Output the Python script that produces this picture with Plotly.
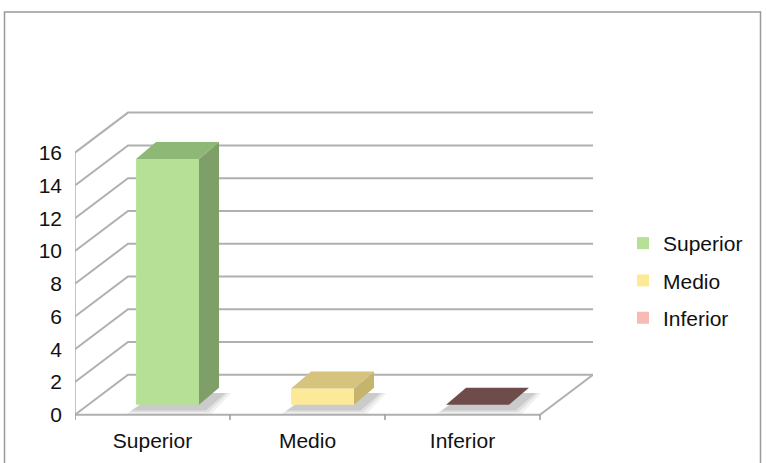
import plotly.graph_objects as go

# ---- data ----
categories = ["Superior", "Medio", "Inferior"]
values = [15, 1, 0]
y_ticks = [0, 2, 4, 6, 8, 10, 12, 14, 16]

# ---- styles ----
front_colors = ["#b5e096", "#fcea98", "#f8bab4"]
top_colors = ["#8db876", "#d6c37e", "#6e4c4a"]
side_colors = ["#7ea068", "#c4b46e", "#5e4040"]
legend_colors = ["#b5e096", "#fae696", "#f8bab4"]
grid_color = "#b0b0b0"
FONT = "Liberation Sans, Arial, Helvetica, sans-serif"
FS = 21

W, H = 766, 463
# plot area in pixels: x 75..593, y 110..423
ML, MT = 75, 110
MR = W - 593
MB = H - 423
X_RANGE = [-0.5, 2.842]
Y_RANGE = [-0.5, 18.6]

# pseudo-3D geometry (in axis units)
DX, DY = 0.342, 2.44          # wall depth
BOX, BOY = 0.097, 0.61        # bar front offset
BDX, BDY = 0.129, 1.04        # bar depth
BW = 0.406                    # bar width

fig = go.Figure()

# bar front faces (real bar traces)
for i, (c, v) in enumerate(zip(categories, values)):
    fig.add_trace(go.Bar(
        x=[i + BOX], y=[v], base=[BOY], width=[BW], name=c,
        marker=dict(color=legend_colors[i] if v == 0 else front_colors[i], line=dict(width=0)),
        showlegend=True, hoverinfo="skip",
        legendgroup=c,
    ))

# side and top faces
for i, v in enumerate(values):
    x0 = i + BOX - BW / 2
    x1 = i + BOX + BW / 2
    top = v + BOY
    if v > 0:
        fig.add_trace(go.Scatter(
            x=[x1, x1, x1 + BDX, x1 + BDX, x1],
            y=[BOY, top, top + BDY, BOY + BDY, BOY],
            fill="toself", fillcolor=side_colors[i], mode="lines",
            line=dict(width=0, color=side_colors[i]), showlegend=False, hoverinfo="skip"))
    fig.add_trace(go.Scatter(
        x=[x0, x1, x1 + BDX, x0 + BDX, x0],
        y=[top, top, top + BDY, top + BDY, top],
        fill="toself", fillcolor=top_colors[i], mode="lines",
        line=dict(width=0, color=top_colors[i]), showlegend=False, hoverinfo="skip"))

shapes = []
xl, xr = X_RANGE[0], 2.5
# gridlines: side wall diagonal + back wall horizontal
for v in y_ticks:
    shapes.append(dict(type="path", xref="x", yref="y", layer="below",
                       path=f"M {xl},{v} L {xl + DX},{v + DY} L {xr + DX},{v + DY}",
                       line=dict(color=grid_color, width=2)))
# front vertical axis line
shapes.append(dict(type="line", xref="x", yref="y", layer="below",
                   x0=xl, x1=xl, y0=0, y1=y_ticks[-1], line=dict(color=grid_color, width=1.5)))
# floor front and right edges
shapes.append(dict(type="path", xref="x", yref="y", layer="below",
                   path=f"M {xl},0 L {xr},0 L {xr + DX},{DY}",
                   line=dict(color=grid_color, width=2)))
# category tick marks
for k in range(len(categories) + 1):
    shapes.append(dict(type="line", xref="x", yref="y", layer="below",
                       x0=xl + k, x1=xl + k, y0=0, y1=-0.32, line=dict(color="#999999", width=1.5)))

# soft drop shadows on the floor (below traces)
for i, v in enumerate(values):
    x0 = i + BOX - BW / 2
    x1 = i + BOX + BW / 2
    for grow, alpha in ((0.045, 0.07), (0.025, 0.09), (0.008, 0.12)):
        sx0 = x0 - grow - 0.02
        sx1 = x1 + BDX + grow + 0.035
        sy0 = BOY - 0.3 - grow * 6
        sy1 = BOY + BDY * 0.7
        shapes.append(dict(type="path", xref="x", yref="y", layer="below",
                           path=(f"M {sx0},{sy0} L {x1 + 0.035 + grow},{sy0} "
                                 f"L {sx1},{sy1} L {x0 + BDX},{sy1} Z"),
                           fillcolor=f"rgba(60,60,60,{alpha})", line=dict(width=0)))

# outer frame (pixel coords -> paper)
pw, ph = W - ML - MR, H - MT - MB
def px(x): return (x - ML) / pw
def py(y): return (H - MB - y) / ph
shapes.append(dict(type="rect", xref="paper", yref="paper", layer="below",
                   x0=px(4.5), x1=px(760.5), y0=py(12), y1=py(480),
                   line=dict(color="#999999", width=1.5), fillcolor="rgba(0,0,0,0)"))

fig.update_layout(
    width=W, height=H,
    margin=dict(l=ML, r=MR, t=MT, b=MB),
    paper_bgcolor="white", plot_bgcolor="white",
    font=dict(family=FONT, size=FS, color="#111111"),
    shapes=shapes,
    barmode="overlay",
    showlegend=True,
    legend=dict(x=px(623), y=py(223), xanchor="left", yanchor="top",
                traceorder="grouped", tracegroupgap=7,
                font=dict(family=FONT, size=FS, color="#111111"),
                bgcolor="rgba(0,0,0,0)"),
    xaxis=dict(range=X_RANGE, tickvals=[0, 1, 2], ticktext=categories,
               showgrid=False, zeroline=False, showline=False, ticks="",
               ticklabelstandoff=3, fixedrange=True),
    yaxis=dict(range=Y_RANGE, tickvals=y_ticks, ticktext=[str(t) for t in y_ticks],
               showgrid=False, zeroline=False, showline=False, ticks="",
               ticklabelstandoff=12, fixedrange=True),
)

fig.write_html("out.html", config={"displayModeBar": False},
               post_script="document.body.style.margin='0';document.body.style.overflow='hidden';")
